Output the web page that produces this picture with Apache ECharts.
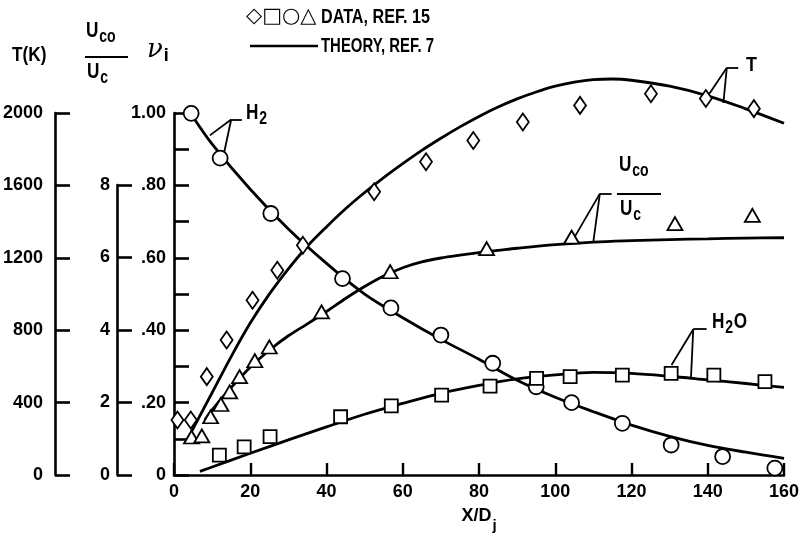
<!DOCTYPE html>
<html><head><meta charset="utf-8">
<script src="https://cdn.jsdelivr.net/npm/echarts@6/dist/echarts.min.js"></script>
<style>html,body{margin:0;padding:0;background:#fff}#c{width:803px;height:542px}</style>
</head><body><div id="c"></div>
<script>
const FONT = "'Liberation Sans',Arial,sans-serif";
const FS = 18;

// X/Dj ticks
const xTickValues = [0, 20, 40, 60, 80, 100, 120, 140, 160];
// Axis tick labels
const tTickLabels = ['0', '400', '800', '1200', '1600', '2000'];          // T(K)
const uTickLabels = ['0', '2', '4', '6', '8'];                            // Uco/Uc
const nuTickLabels = ['0', '.20', '.40', '.60', '.80', '1.00'];           // nu_i

// Temperature T(K): data (diamonds) and theory
const tData = [[0.9,304],[4.4,304],[8.6,544],[13.8,746],[20.6,966],[27.1,1132],[33.8,1270],[52.5,1566],[66.1,1732],[78.5,1850],[91.5,1952],[106.5,2044],[125.1,2108],[139.5,2082],[152.1,2026]];
const tTheory = [[4.6,240],[10,455],[15,655],[20,840],[25,1000],[30,1140],[35,1265],[40,1372],[45,1472],[50,1562],[55,1645],[60,1722],[65,1795],[70,1862],[75,1925],[80,1983],[85,2035],[90,2080],[95,2118],[100,2150],[105,2172],[110,2186],[115,2190],[120,2183],[130,2150],[140,2097],[150,2025],[160,1945]];

// Uco/Uc: data (triangles) and theory
const uData = [[4.6,1.05],[7.3,1.08],[9.6,1.61],[12.3,1.95],[14.6,2.30],[17.2,2.72],[21.2,3.16],[25.0,3.54],[38.7,4.51],[56.7,5.62],[82.0,6.26],[104.3,6.58],[131.4,6.95],[151.7,7.18]];
const uTheory = [[8.1,1.52],[10,1.80],[15,2.42],[20,2.98],[25,3.45],[30,3.85],[35,4.18],[40,4.52],[45,4.88],[50,5.21],[55,5.50],[60,5.73],[65,5.89],[70,6.00],[75,6.08],[80,6.15],[85,6.21],[90,6.27],[100,6.37],[110,6.44],[120,6.48],[130,6.51],[140,6.53],[150,6.55],[160,6.56]];

// H2 mole fraction: data (circles) and theory
const h2Data = [[4.5,1.00],[12.1,0.876],[25.4,0.723],[44.2,0.543],[56.9,0.462],[70.0,0.387],[83.6,0.309],[95.0,0.244],[104.3,0.200],[117.6,0.143],[130.4,0.083],[143.9,0.051],[157.6,0.019]];
const h2Theory = [[5,0.99],[10,0.915],[20,0.79],[30,0.68],[40,0.585],[50,0.5],[60,0.435],[70,0.375],[80,0.32],[90,0.262],[100,0.215],[110,0.175],[120,0.138],[130,0.107],[140,0.082],[150,0.063],[160,0.046]];

// H2O mole fraction: data (squares) and theory
const h2oData = [[11.9,0.055],[18.4,0.078],[25.2,0.106],[43.7,0.161],[57.0,0.191],[70.2,0.221],[82.9,0.246],[95.1,0.267],[103.9,0.272],[117.6,0.276],[130.4,0.281],[141.6,0.276],[155.0,0.258]];
const h2oTheory = [[6.8,0.01],[10,0.022],[20,0.06],[30,0.097],[40,0.133],[50,0.168],[60,0.198],[70,0.226],[80,0.248],[90,0.266],[100,0.277],[110,0.284],[120,0.281],[130,0.273],[140,0.263],[150,0.253],[160,0.242]];

// Leader lines for curve labels (data coordinates)
const h2Leader = [[9.4,0.939],[15.0,0.983],[13.1,0.889],[15.0,0.983],[17.8,0.983]];
const tLeader = [[140.1,2099],[145.0,2252],[144.1,2057],[145.0,2252],[148.0,2252]];
const uLeader = [[104.3,6.44],[111.7,7.78],[110.0,6.45],[111.7,7.78],[114.8,7.78]];
const h2oLeader = [[130.5,0.304],[136.2,0.403],[135.6,0.269],[136.2,0.403],[139.7,0.403]];

const chart = echarts.init(document.getElementById('c'), null, {renderer: 'canvas'});

const black = '#000';
function leader(pts) {
  return {
    silent: true, symbol: ['none', 'none'], animation: false,
    lineStyle: {color: black, width: 1.8, type: 'solid'},
    label: {show: false}, emphasis: {disabled: true},
    data: [
      [{coord: pts[0]}, {coord: pts[1]}],
      [{coord: pts[2]}, {coord: pts[3]}],
      [{coord: pts[3]}, {coord: pts[4]}]
    ]
  };
}
function theory(data, yi, lead) {
  return {type: 'line', xAxisIndex: 0, yAxisIndex: yi, data: data, smooth: 0.35, showSymbol: false,
    lineStyle: {color: black, width: 2.8}, z: 2, silent: true, markLine: leader(lead)};
}
function points(data, yi, symbol, size) {
  return {type: 'scatter', xAxisIndex: 0, yAxisIndex: yi, data: data, symbol: symbol, symbolSize: size,
    itemStyle: {color: '#fff', borderColor: black, borderWidth: 1.8, opacity: 1}, z: 5, silent: true};
}
function fmt(labels, step) {
  return v => labels[Math.round(v / step)] ?? '';
}
const axisLine = {show: true, lineStyle: {color: black, width: 2.6}};
const axisTick = {show: true, inside: true, length: 15, lineStyle: {color: black, width: 2.6}};
const lab = {color: black, fontSize: FS, fontFamily: FONT, fontWeight: 'bold'};

// condensed header / annotation text helpers
const SX = 0.78;
function txt(x, y, text, sx, size) {
  return {type: 'text', x: x, y: y, scaleX: sx || SX,
    style: {text: text, fontSize: size || 21, fontWeight: 'bold', fontFamily: FONT, fill: black}};
}
function sub(x, y, main, s, tail, sx) {
  return {type: 'text', x: x, y: y, scaleX: sx || SX, style: {
    text: '{b|' + main + '}{s|' + s + '}' + (tail ? '{b|' + tail + '}' : ''), rich: {
    b: {fontSize: 22, fontWeight: 'bold', fontFamily: FONT, fill: black, verticalAlign: 'top', lineHeight: 26},
    s: {fontSize: 18, fontWeight: 'bold', fontFamily: FONT, fill: black, verticalAlign: 'bottom', lineHeight: 26, padding: [10, 1, 0, 1]}}}};
}

const option = {
  backgroundColor: '#fff',
  animation: false,
  grid: [
    {left: 174, right: 19, top: 41, bottom: 67, containLabel: false, outerBoundsMode: 'none'},
    {left: 55, width: 30, top: 113, bottom: 67, containLabel: false, outerBoundsMode: 'none'},
    {left: 117, width: 30, top: 185, bottom: 67, containLabel: false, outerBoundsMode: 'none'},
    {left: 174, width: 30, top: 113, bottom: 67, containLabel: false, outerBoundsMode: 'none'}
  ],
  xAxis: [
    {gridIndex: 0, type: 'value', min: 0, max: 160, interval: 20,
      axisLine: axisLine, axisTick: {show: true, inside: true, length: 12, lineStyle: {color: black, width: 2.4}},
      axisLabel: Object.assign({margin: 8, showMinLabel: true, showMaxLabel: true, hideOverlap: false,
        formatter: v => xTickValues.includes(v) ? String(v) : ''}, lab),
      splitLine: {show: false},
      name: '{b|X/D}{s|j}', nameLocation: 'middle', nameGap: 22,
      nameTextStyle: {rich: {b: {fontSize: FS, fontWeight: 'bold', fontFamily: FONT, color: black, verticalAlign: 'top', lineHeight: 22},
                             s: {fontSize: 15, fontWeight: 'bold', fontFamily: FONT, color: black, verticalAlign: 'bottom', lineHeight: 26, padding: [12, 0, 0, 1]}}}},
    {gridIndex: 1, type: 'value', show: false, min: 0, max: 1},
    {gridIndex: 2, type: 'value', show: false, min: 0, max: 1},
    {gridIndex: 3, type: 'value', show: false, min: 0, max: 1}
  ],
  yAxis: [
    {gridIndex: 0, type: 'value', show: false, min: 0, max: 1.2},
    {gridIndex: 0, type: 'value', show: false, min: 0, max: 2400},
    {gridIndex: 0, type: 'value', show: false, min: 0, max: 12},
    {gridIndex: 1, type: 'value', min: 0, max: 2000, interval: 400, axisLine: axisLine, axisTick: axisTick,
      axisLabel: Object.assign({margin: 12, showMinLabel: true, showMaxLabel: true, formatter: fmt(tTickLabels, 400)}, lab),
      splitLine: {show: false}},
    {gridIndex: 2, type: 'value', min: 0, max: 8, interval: 2, axisLine: axisLine, axisTick: axisTick,
      axisLabel: Object.assign({margin: 7, showMinLabel: true, showMaxLabel: true, formatter: fmt(uTickLabels, 2)}, lab),
      splitLine: {show: false}},
    {gridIndex: 3, type: 'value', min: 0, max: 1, interval: 0.2, axisLine: axisLine, axisTick: axisTick,
      minorTick: {show: true, splitNumber: 2, length: 15, lineStyle: {color: black, width: 2.6}},
      axisLabel: Object.assign({margin: 8, showMinLabel: true, showMaxLabel: true, formatter: fmt(nuTickLabels, 0.2)}, lab),
      splitLine: {show: false}, minorSplitLine: {show: false}}
  ],
  series: [
    theory(tTheory, 1, tLeader),
    theory(uTheory, 2, uLeader),
    theory(h2Theory, 0, h2Leader),
    theory(h2oTheory, 0, h2oLeader),
    points(tData, 1, 'diamond', [12, 17]),
    points(uData, 2, 'triangle', [15, 13]),
    points(h2Data, 0, 'circle', 15),
    points(h2oData, 0, 'rect', 13)
  ],
  graphic: [
    // header axis titles
    txt(12, 45, 'T(K)', 0.82),
    sub(86, 20, 'U', 'co'),
    {type: 'line', shape: {x1: 85, y1: 57, x2: 128, y2: 57}, style: {stroke: black, lineWidth: 1.8}},
    sub(87, 61, 'U', 'c'),
    {type: 'text', x: 147, y: 37, style: {text: '{b|ν}{s|i}', rich: {
      b: {fontSize: 26, fontFamily: "'DejaVu Serif',serif", fontStyle: 'italic', fill: black, verticalAlign: 'top', lineHeight: 28},
      s: {fontSize: 18, fontWeight: 'bold', fontFamily: FONT, fill: black, verticalAlign: 'bottom', lineHeight: 28, padding: [12, 0, 0, 1]}}}},
    // legend
    {type: 'text', x: 246, y: 6, style: {text: '◇□○△', fontSize: 21, fontFamily: "'DejaVu Sans'", fill: black}},
    txt(321, 7, 'DATA, REF. 15', 0.77),
    {type: 'line', shape: {x1: 250, y1: 46, x2: 318, y2: 46}, style: {stroke: black, lineWidth: 2.4}},
    txt(321, 36, 'THEORY, REF. 7', 0.71),
    // curve labels
    sub(246, 102, 'H', '2'),
    txt(746, 55, 'T', 0.85),
    sub(619, 154, 'U', 'co'),
    {type: 'line', shape: {x1: 617, y1: 194, x2: 661, y2: 194}, style: {stroke: black, lineWidth: 1.8}},
    sub(620, 198, 'U', 'c'),
    sub(712, 311, 'H', '2', 'O')
  ]
};
chart.setOption(option);
</script></body></html>
